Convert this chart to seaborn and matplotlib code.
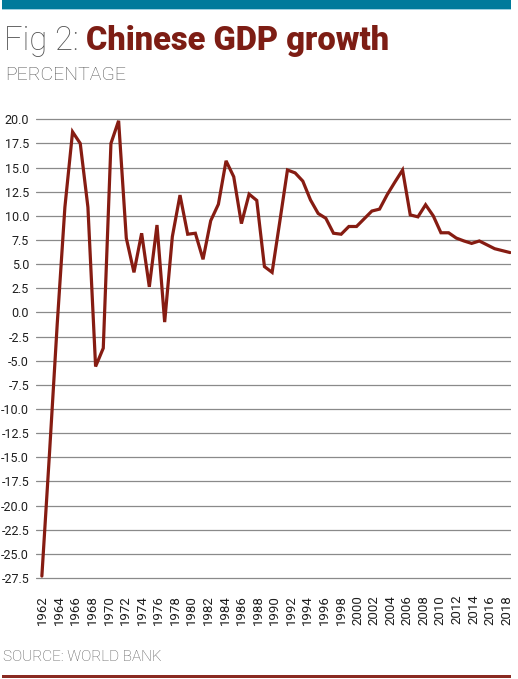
import numpy as np
import pandas as pd
import matplotlib
matplotlib.use("Agg")
import matplotlib.pyplot as plt
import seaborn as sns
from matplotlib.patches import Rectangle

# ---- data ----
growth = [-27.3, -14.5, -1.2, 10.9, 18.7, 17.5, 10.9, -5.6, -3.7, 17.5,
          19.85, 7.7, 4.15, 8.2, 2.65, 9.05, -1.0, 7.85, 12.15, 8.1,
          8.2, 5.5, 9.5, 11.2, 15.7, 14.05, 9.2, 12.25, 11.6, 4.75,
          4.15, 9.4, 14.75, 14.45, 13.6, 11.65, 10.25, 9.75, 8.2, 8.1,
          8.9, 8.9, 9.7, 10.5, 10.7, 12.2, 13.5, 14.75, 10.1, 9.9,
          11.15, 10.0, 8.25, 8.25, 7.7, 7.4, 7.15, 7.4, 7.0, 6.6,
          6.4, 6.2]
first_year, last_year = 1962, 2018
tick_years = list(range(1962, 2019, 2))
y_ticks = [20.0, 17.5, 15.0, 12.5, 10.0, 7.5, 5.0, 2.5, 0.0, -2.5, -5.0, -7.5,
           -10.0, -12.5, -15.0, -17.5, -20.0, -22.5, -25.0, -27.5]

# positions of observations spread evenly across the year axis
xpos = np.linspace(first_year - 0.1, last_year + 0.4, len(growth))
df = pd.DataFrame({"year": xpos, "growth": growth})

sns.set_theme(style="white")
plt.rcParams["font.family"] = ["Roboto", "DejaVu Sans"]
plt.rcParams["axes.unicode_minus"] = False

W, H = 518, 679
fig = plt.figure(figsize=(W / 100, H / 100), dpi=100)
fig.patch.set_facecolor("white")

# axes placement in pixels
ppu = (578.0 - 119.3) / 47.5
ylo, yhi = -27.8, 20.2
top_px = 119.3 - (yhi - 20.0) * ppu
bot_px = 578.0 + (-27.5 - ylo) * ppu
left_px, right_px = 36.0, 511.0
ax = fig.add_axes([left_px / W, 1 - bot_px / H, (right_px - left_px) / W, (bot_px - top_px) / H])

pxyr = (506.7 - 42.7) / 56.0
xmin = 1962 - (42.7 - left_px) / pxyr
xmax = 2018 + (right_px - 506.7) / pxyr

sns.lineplot(data=df, x="year", y="growth", ax=ax, color="#861C12", linewidth=2.3,
             solid_joinstyle="miter", zorder=3)
ax.set_xlim(xmin, xmax)
ax.set_ylim(ylo, yhi)
ax.set_xlabel("")
ax.set_ylabel("")

ax.set_yticks(y_ticks)
ax.set_yticklabels([f"{v:.1f}" for v in y_ticks])
ax.set_xticks(tick_years)
ax.set_xticklabels([str(y) for y in tick_years], rotation=90)
ax.tick_params(axis="both", length=0, colors="#1e1e1e")
ax.tick_params(axis="y", pad=5, labelsize=9)
ax.tick_params(axis="x", pad=10, labelsize=9.5)
ax.grid(axis="y", color="#8a8a8a", linewidth=0.9)
ax.grid(axis="x", visible=False)
for s in ax.spines.values():
    s.set_visible(False)
ax.set_facecolor("white")

# top teal bar and bottom red rule
fig.patches.append(Rectangle((2 / W, 1 - 9 / H), 509 / W, 9 / H, transform=fig.transFigure,
                             facecolor="#007A9B", edgecolor="none"))
fig.patches.append(Rectangle((2 / W, 1 - 10 / H), 509 / W, 1 / H, transform=fig.transFigure,
                             facecolor="#9fd0e0", edgecolor="none"))
fig.patches.append(Rectangle((2 / W, 1 - 677.5 / H), 509 / W, 3 / H, transform=fig.transFigure,
                             facecolor="#8A2A22", edgecolor="none"))

# title
t1 = fig.text(4 / W, 1 - 50 / H, "Fig 2: ", fontsize=23.5, fontweight="light",
              color="#555555", va="baseline", ha="left")
fig.canvas.draw()
bb = t1.get_window_extent(renderer=fig.canvas.get_renderer())
fig.text(bb.x1 / W, 1 - 50 / H, "Chinese GDP growth", fontsize=23.5,
         fontweight="heavy", color="#7D1D14", va="baseline", ha="left")
fig.text(5 / W, 1 - 80 / H, "PERCENTAGE", fontsize=14, fontweight="light",
         color="#555555", va="baseline", ha="left")
fig.text(3 / W, 1 - 661 / H, "SOURCE: WORLD BANK", fontsize=11, fontweight="light",
         color="#555555", va="baseline", ha="left")

fig.savefig("out.png", dpi=100, facecolor="white")
